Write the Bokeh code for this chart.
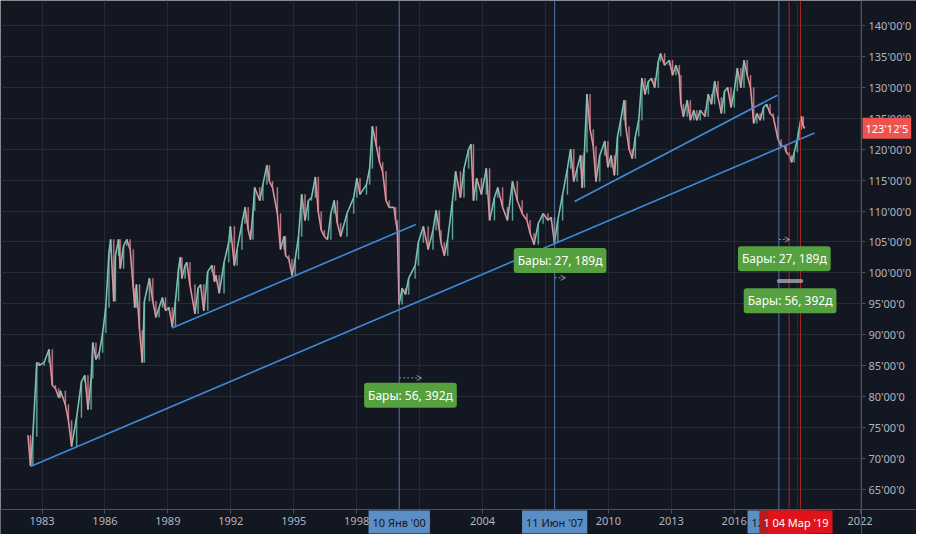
import numpy as np
import pandas as pd
from bokeh.plotting import figure
from bokeh.models import (FixedTicker, Label, Arrow, OpenHead, ColumnDataSource, BoxAnnotation)
from bokeh.embed import file_html
from bokeh.resources import INLINE

# ---- data (decimal year, weekly-chart turning points) ----
years = [
    1982.33, 1982.45, 1982.56, 1982.75, 1982.87, 1983.10, 1983.33, 1983.49, 1983.64, 1983.80,
    1983.88, 1984.11, 1984.26, 1984.41, 1984.65, 1984.88, 1985.04, 1985.19, 1985.34, 1985.42,
    1985.57, 1985.73, 1985.89, 1986.04, 1986.19, 1986.27, 1986.42, 1986.50, 1986.65, 1986.73,
    1986.89, 1987.04, 1987.20, 1987.35, 1987.42, 1987.50, 1987.65, 1987.78, 1987.88, 1988.12,
    1988.28, 1988.43, 1988.58, 1988.74, 1988.89, 1989.05, 1989.21, 1989.36, 1989.51, 1989.59,
    1989.67, 1989.82, 1989.90, 1990.05, 1990.29, 1990.44, 1990.56, 1990.71, 1990.90, 1991.10,
    1991.22, 1991.29, 1991.45, 1991.68, 1991.90, 1991.98, 1992.17, 1992.30, 1992.53, 1992.68,
    1992.83, 1992.94, 1993.06, 1993.14, 1993.38, 1993.53, 1993.72, 1993.84, 1993.99, 1994.22,
    1994.37, 1994.54, 1994.61, 1994.77, 1994.92, 1995.07, 1995.23, 1995.38, 1995.54, 1995.70,
    1995.85, 1996.03, 1996.17, 1996.31, 1996.46, 1996.61, 1996.77, 1996.93, 1997.08, 1997.24,
    1997.54, 1997.86, 1998.01, 1998.16, 1998.47, 1998.62, 1998.75, 1998.94, 1999.09, 1999.24,
    1999.40, 1999.55, 1999.78, 1999.86, 1999.94, 2000.02, 2000.17, 2000.33, 2000.48, 2000.79,
    2000.94, 2001.18, 2001.41, 2001.64, 2001.79, 2001.94, 2002.02, 2002.18, 2002.34, 2002.57,
    2002.72, 2002.95, 2003.12, 2003.34, 2003.45, 2003.57, 2003.72, 2003.95, 2004.18, 2004.34,
    2004.57, 2004.73, 2004.96, 2005.19, 2005.43, 2005.66, 2005.89, 2006.12, 2006.27, 2006.46,
    2006.66, 2006.89, 2007.12, 2007.27, 2007.43, 2007.59, 2007.82, 2008.05, 2008.20, 2008.35,
    2008.51, 2008.67, 2008.75, 2008.86, 2008.98, 2009.13, 2009.28, 2009.41, 2009.59, 2009.83,
    2009.98, 2010.13, 2010.29, 2010.44, 2010.59, 2010.75, 2010.83, 2010.99, 2011.14, 2011.29,
    2011.45, 2011.60, 2011.75, 2011.91, 2012.06, 2012.21, 2012.38, 2012.49, 2012.68, 2012.91,
    2013.06, 2013.22, 2013.38, 2013.46, 2013.58, 2013.76, 2013.91, 2014.07, 2014.22, 2014.38,
    2014.61, 2014.76, 2014.92, 2015.07, 2015.23, 2015.39, 2015.54, 2015.69, 2015.85, 2016.00,
    2016.15, 2016.32, 2016.47, 2016.62, 2016.78, 2016.93, 2017.08, 2017.24, 2017.40, 2017.55,
    2017.71, 2017.86, 2018.09, 2018.24, 2018.40, 2018.48, 2018.63, 2018.74, 2018.86, 2019.01,
    2019.09, 2019.20, 2019.29, 2019.35]

closes = [
    73.7, 68.8, 73.5, 85.5, 85.0, 85.5, 87.6, 81.8, 81.3, 79.8,
    80.9, 78.7, 76.1, 71.9, 76.6, 82.4, 83.4, 77.9, 82.9, 88.7,
    86.0, 87.1, 90.3, 94.4, 103.3, 105.4, 95.4, 102.8, 105.4, 100.7,
    104.4, 105.4, 103.8, 97.5, 94.4, 98.1, 90.7, 85.5, 95.4, 99.1,
    95.4, 92.8, 94.4, 96.0, 93.9, 94.4, 91.3, 95.4, 100.7, 102.5,
    99.1, 101.2, 101.7, 98.1, 93.4, 97.5, 98.1, 93.9, 100.2, 101.2,
    98.6, 99.6, 96.7, 101.7, 104.9, 107.5, 101.2, 103.8, 108.0, 110.6,
    106.9, 105.4, 110.1, 113.8, 111.7, 114.3, 117.4, 114.8, 113.8, 109.6,
    103.8, 105.9, 102.8, 102.2, 99.6, 102.2, 105.9, 112.7, 108.5, 111.7,
    112.2, 115.5, 109.9, 106.9, 105.9, 105.4, 109.6, 111.7, 108.0, 105.9,
    109.6, 112.2, 115.3, 112.7, 114.3, 116.9, 123.7, 120.5, 117.9, 116.4,
    111.7, 110.6, 110.6, 108.5, 106.9, 94.9, 97.5, 96.5, 99.1, 101.2,
    104.9, 107.5, 103.8, 106.9, 110.1, 106.9, 104.9, 102.8, 105.4, 111.7,
    116.4, 112.2, 116.9, 120.0, 120.8, 111.7, 115.3, 112.7, 116.9, 108.5,
    112.2, 113.8, 110.6, 108.5, 114.8, 111.7, 109.6, 108.5, 106.4, 104.6,
    108.0, 109.6, 108.5, 109.0, 104.9, 108.5, 112.7, 116.9, 120.0, 114.8,
    116.9, 119.0, 113.8, 119.5, 128.9, 123.2, 120.5, 114.8, 119.0, 121.3,
    117.1, 119.0, 115.8, 122.1, 124.7, 127.9, 123.7, 120.0, 118.5, 122.1,
    124.7, 131.5, 128.9, 131.0, 131.5, 130.0, 134.2, 135.5, 133.6, 134.4,
    132.0, 133.6, 132.0, 127.3, 125.3, 127.9, 124.7, 126.3, 124.7, 126.3,
    125.3, 128.9, 127.3, 131.0, 128.4, 125.8, 129.4, 130.0, 126.8, 129.4,
    133.1, 130.0, 134.4, 132.0, 130.0, 124.2, 125.8, 124.7, 126.8, 127.3,
    125.8, 125.3, 121.6, 120.5, 120.5, 119.5, 119.0, 117.9, 119.5, 121.6,
    123.2, 125.3, 123.7, 123.4]

last_price = 123.39          # 123'12'5
last_price_text = "123'12'5"

x_ticks = [1983, 1986, 1989, 1992, 1995, 1998, 2001, 2004, 2007, 2010, 2013, 2016, 2019, 2022]
y_ticks = [65, 70, 75, 80, 85, 90, 95, 100, 105, 110, 115, 120, 125, 130, 135, 140]

# trend lines (start year, start price, end year, end price)
trend_x0 = [1982.45, 1989.20, 2008.39]
trend_y0 = [68.65, 91.09, 111.55]
trend_x1 = [2019.83, 2000.82, 2018.06]
trend_y1 = [122.63, 107.83, 128.75]

# vertical date markers
blue_dates = [2000.03, 2007.44, 2018.13]
blue_texts = ["10 Янв '00", "11 Июн '07", "12 Фев '18"]
red_dates = [2018.62, 2019.16]
red_texts = ["13 Авг '18", "04 Мар '19"]

# date-range measurements
range_start = [2000.03, 2007.44, 2018.13, 2018.13]
range_end = [2001.10, 2007.96, 2018.65, 2019.20]
range_texts = ["Бары: 56, 392д", "Бары: 27, 189д", "Бары: 27, 189д", "Бары: 56, 392д"]
range_label_price = [80.2, 102.0, 102.3, 95.5]
range_arrow_price = [83.0, 99.2, 105.4, 98.7]

# ---- figure ----
BG = "#131722"
GRID = "#262a35"
AXIS = "#4c525e"
TXT = "#b2b5be"
FONT = "Noto Sans"
UP = "#6fbfae"
DOWN = "#e08a94"

W, H = 916, 534
AXW, AXH = 55, 25                      # price-scale strip and time-scale strip (px)
X0, X1 = 1981.02, 2022.07              # visible time span of the chart area
Y0, Y1 = 61.7, 144.08                  # visible price span of the chart area
XR = X1 + (X1 - X0) * AXW / (W - AXW)  # extend ranges so the axis strips sit in the frame
YR = Y0 - (Y1 - Y0) * AXH / (H - AXH)

p = figure(width=W, height=H, x_range=(X0, XR), y_range=(YR, Y1),
           output_backend="svg", toolbar_location=None, y_axis_location="right",
           background_fill_color=BG, border_fill_color=BG,
           min_border_left=0, min_border_top=0, min_border_right=0, min_border_bottom=0)
p.outline_line_color = None

p.xgrid.ticker = FixedTicker(ticks=x_ticks)
p.ygrid.ticker = FixedTicker(ticks=y_ticks)
p.xgrid.grid_line_color = GRID
p.ygrid.grid_line_color = GRID

# cover the grid inside the axis strips
p.add_layout(BoxAnnotation(left=X1, fill_color=BG, fill_alpha=1.0, line_alpha=0, level="underlay"))
p.add_layout(BoxAnnotation(top=Y0, fill_color=BG, fill_alpha=1.0, line_alpha=0, level="underlay"))

for ax in (p.xaxis[0], p.yaxis[0]):
    ax.axis_line_color = AXIS
    ax.major_tick_line_color = AXIS
    ax.minor_tick_line_color = None
    ax.major_tick_in = 0
    ax.major_tick_out = 4
    ax.major_label_text_color = TXT
    ax.major_label_text_font = FONT
    ax.major_label_text_font_size = "11px"
    ax.major_label_standoff = 3

p.xaxis[0].fixed_location = Y0
p.yaxis[0].fixed_location = X1
p.xaxis[0].ticker = FixedTicker(ticks=x_ticks)
p.xaxis[0].major_label_overrides = {t: str(t) for t in x_ticks}
p.yaxis[0].ticker = FixedTicker(ticks=y_ticks)
p.yaxis[0].major_label_overrides = {t: f"{t}'00'0" for t in y_ticks}

# ---- price path built from the closes: coloured moves + thin bodies ----
df = pd.DataFrame({"t": years, "c": closes})
df["o"] = df["c"].shift(1).fillna(df["c"])
df["t0"] = df["t"].shift(1).fillna(df["t"])
df["top"] = df[["o", "c"]].max(axis=1)
df["bot"] = df[["o", "c"]].min(axis=1)
df["col"] = np.where(df["c"] >= df["o"], UP, DOWN)
src = ColumnDataSource(df)

p.segment(x0="t0", y0="o", x1="t", y1="c", source=src, line_color="col",
          line_width=1.6, line_alpha=0.95)
p.vbar(x="t", width=0.05, top="top", bottom="bot", fill_color="col",
       line_color="col", line_width=0.4, fill_alpha=0.8, line_alpha=0.8, source=src)
p.line("t", "c", source=src, line_color="#e6e1e6", line_width=0.6, line_alpha=0.35)

# ---- trend lines ----
p.segment(x0=trend_x0, y0=trend_y0, x1=trend_x1, y1=trend_y1,
          line_color="#3f8ad8", line_width=1.6)

# ---- vertical date lines (chart area only) ----
p.segment(x0=blue_dates, y0=[Y0] * len(blue_dates), x1=blue_dates, y1=[Y1] * len(blue_dates),
          line_color="#5b8ec4", line_width=1, line_alpha=0.8)
p.segment(x0=red_dates, y0=[Y0] * len(red_dates), x1=red_dates, y1=[Y1] * len(red_dates),
          line_color="#c62828", line_width=1, line_alpha=0.85)

# ---- date range arrows & labels ----
for i in range(4):
    if i == 3:
        p.segment(x0=[range_start[i]], y0=[range_arrow_price[i]],
                  x1=[range_end[i]], y1=[range_arrow_price[i]],
                  line_color="#9ea1aa", line_width=4, line_alpha=0.85, line_cap="round")
    else:
        p.add_layout(Arrow(end=OpenHead(size=5, line_color="#8f929b", line_width=1),
                           x_start=range_start[i], y_start=range_arrow_price[i],
                           x_end=range_end[i], y_end=range_arrow_price[i],
                           line_color="#8f929b", line_width=1, line_dash="2 2"))
    p.add_layout(Label(x=(range_start[i] + range_end[i]) / 2, y=range_label_price[i],
                       text=range_texts[i], text_align="center", text_baseline="middle",
                       text_color="#ffffff", text_font=FONT, text_font_size="12px",
                       background_fill_color="#55a03f", background_fill_alpha=1.0,
                       border_radius=3, padding=4))

# ---- bottom date tags ----
TAG_Y = (Y0 + YR) / 2
for d, t in zip(blue_dates, blue_texts):
    p.add_layout(Label(x=d, y=TAG_Y, text=t, text_align="center", text_baseline="middle",
                       text_color="#131722", text_font=FONT, text_font_size="11px",
                       background_fill_color="#5b8ec4", background_fill_alpha=1.0,
                       padding=4))
for d, t, c in zip(red_dates, red_texts, ["#b71c1c", "#e0131b"]):
    p.add_layout(Label(x=d, y=TAG_Y, text=t, text_align="center", text_baseline="middle",
                       text_color="#ffffff", text_font=FONT, text_font_size="11px",
                       background_fill_color=c, background_fill_alpha=1.0,
                       padding=4))

# ---- last price tag on the price scale ----
p.add_layout(Label(x=X1, y=last_price, x_offset=1, text=last_price_text,
                   text_align="left", text_baseline="middle",
                   text_color="#ffffff", text_font=FONT, text_font_size="11px",
                   background_fill_color="#ef5350", background_fill_alpha=1.0,
                   padding=3))

open("out.html", "w").write(file_html(p, INLINE))
